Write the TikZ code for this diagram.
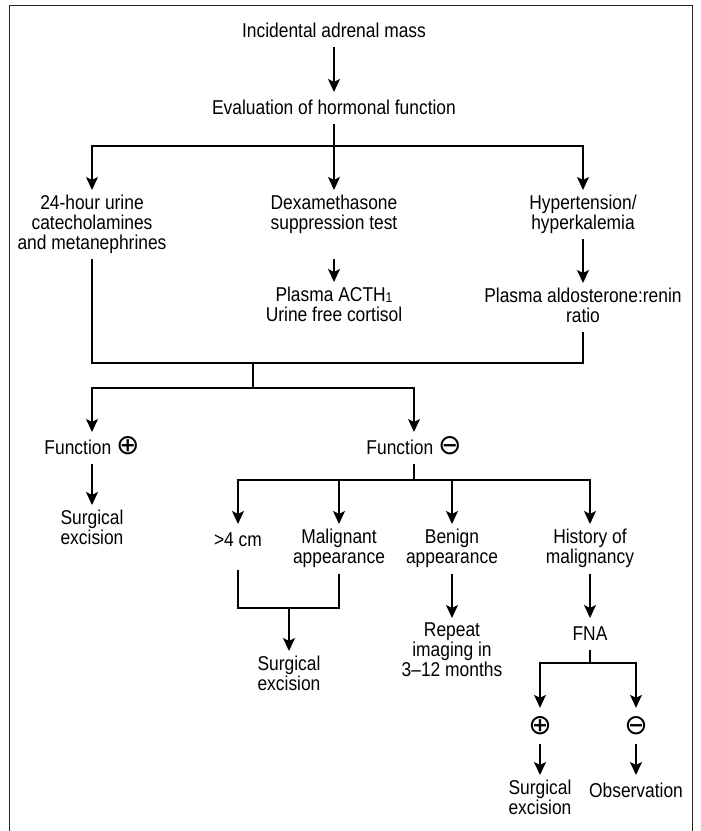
\documentclass[tikz,border=0pt]{standalone}
\usepackage{fontspec}
\setmainfont[FakeStretch=0.87]{Liberation Sans}
\newfontfamily\symfont{DejaVu Sans}
\usetikzlibrary{arrows.meta}
\newcommand\PlusSym{{\symfont\fontsize{28}{28}\selectfont ⊕}}
\newcommand\MinusSym{{\symfont\fontsize{28}{28}\selectfont ⊖}}
\newcommand\SubOne{\raisebox{-1.5pt}{\fontsize{14}{14}\selectfont 1}}
\begin{document}
\begin{tikzpicture}[x=1pt,y=-1pt,
  lbl/.style={align=center, inner xsep=0pt, inner ysep=5pt, outer sep=0pt,
    font=\fontsize{20}{20}\selectfont, anchor=north,
    execute at begin node={\rule{0pt}{17pt}},
    execute at end node={\rule[-5pt]{0pt}{5pt}}},
  symb/.style={inner sep=9pt, outer sep=0pt},
  ln/.style={line width=1.5pt},
  arr/.style={ln, -{Stealth[length=13pt,width=12pt,inset=3pt]}}]
\useasboundingbox (0,0) rectangle (701,831);
\draw[line width=1pt, black!85] (9,832) -- (9,5) -- (692,5) -- (692,832);

\node[lbl] (inc) at (334,15) {Incidental adrenal mass};
\node[lbl] (eval) at (334,92) {Evaluation of hormonal function};
\node[lbl] (urine) at (92,190) {24-hour urine\\catecholamines\\and metanephrines};
\node[lbl] (dex) at (334,190) {Dexamethasone\\suppression test};
\node[lbl] (hyp) at (583,190) {Hypertension/\\hyperkalemia};
\node[lbl] (acth) at (334,282) {Plasma ACTH\SubOne\\Urine free cortisol};
\node[lbl] (aldo) at (583,283) {Plasma aldosterone:renin\\ratio};
\node[lbl] (fpos) at (92,432) {Function \smash{\PlusSym}};
\node[lbl] (fneg) at (414,432) {Function \smash{\MinusSym}};
\node[lbl] (surg1) at (92,505) {Surgical\\excision};
\node[lbl] (big) at (238,524) {>4 cm};
\node[lbl] (malig) at (339,524) {Malignant\\appearance};
\node[lbl] (benign) at (452,524) {Benign\\appearance};
\node[lbl] (hist) at (590,524) {History of\\malignancy};
\node[lbl] (surg2) at (289,651) {Surgical\\excision};
\node[lbl] (rep) at (452,618) {Repeat\\imaging in\\3–12 months};
\node[lbl] (fna) at (590,618) {FNA};
\node[symb] (cpos) at (540,726) {\PlusSym};
\node[symb] (cneg) at (636,726) {\MinusSym};
\node[lbl] (surg3) at (540,775) {Surgical\\excision};
\node[lbl] (obs) at (636,775) {Observation};

\coordinate (j0) at (334,146);
\coordinate (j1) at (253,363);
\coordinate (j2) at (253,388);
\coordinate (j3) at (414,480);
\coordinate (j4) at (289,608);
\coordinate (j5) at (590,663);

\draw[arr] (inc) -- (eval);
\draw[arr] (eval) -- (dex);
\draw[arr] (j0) -| (urine.north);
\draw[arr] (j0) -| (hyp.north);
\draw[arr, shorten <=20pt] (dex) -- (acth);
\draw[arr] (hyp) -- (aldo);
\draw[ln] (urine.south) |- (j1) -| (aldo.south);
\draw[ln] (j1) -- (j2);
\draw[arr] (j2) -| (fpos.north);
\draw[arr] (j2) -| (fneg.north);
\draw[arr] (fpos) -- (surg1);
\draw[ln] (fneg.south) -- (j3);
\draw[arr] (j3) -| (big.north);
\draw[arr] (j3) -| (malig.north);
\draw[arr] (j3) -| (benign.north);
\draw[arr] (j3) -| (hist.north);
\draw[ln, shorten >=14pt] (malig.south) |- (j4) -| (big.south);
\draw[arr] (j4) -- (surg2);
\draw[arr] (benign) -- (rep);
\draw[arr] (hist) -- (fna);
\draw[ln] (fna.south) -- (j5);
\draw[arr] (j5) -| (cpos.north);
\draw[arr] (j5) -| (cneg.north);
\draw[arr] (cpos) -- (surg3);
\draw[arr] (cneg) -- (obs);
\end{tikzpicture}
\end{document}
